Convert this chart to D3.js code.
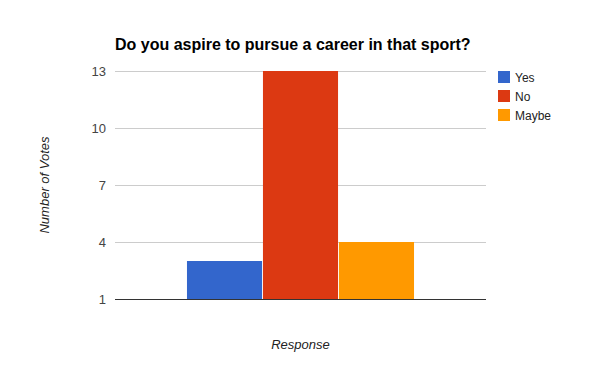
<!DOCTYPE html>
<html><head><meta charset="utf-8">
<script src="https://cdn.jsdelivr.net/npm/d3@7"></script>
<style>body{margin:0;background:#fff}text{font-family:Arial,"Liberation Sans",sans-serif}</style>
</head><body>
<svg id="c" width="600" height="371"></svg>
<script>
const categories = [""];
const seriesNames = ["Yes", "No", "Maybe"];
const seriesValues = [3, 13, 4];
const seriesColors = ["#3366cc", "#dc3912", "#ff9900"];
const yTicks = [1, 4, 7, 10, 13];
const title = "Do you aspire to pursue a career in that sport?";
const xTitle = "Response";
const yTitle = "Number of Votes";

const svg = d3.select("#c");
const L = 115, R = 486, T = 71, B = 299;
const y = d3.scaleLinear().domain([1, 13]).range([B, T]);
const x0 = d3.scaleBand().domain(categories).range([L, R]).paddingInner(0).paddingOuter(0.317);
const x1 = d3.scaleBand().domain(seriesNames).range([0, x0.bandwidth()]).paddingInner(0.012);

svg.append("rect").attr("width", 600).attr("height", 371).attr("fill", "#fff");

// gridlines
svg.append("g").selectAll("line").data(yTicks.filter(t => t !== 1)).join("line")
  .attr("x1", L).attr("x2", R)
  .attr("y1", d => Math.round(y(d)) + 0.5).attr("y2", d => Math.round(y(d)) + 0.5)
  .attr("stroke", "#cccccc").attr("stroke-width", 1);

// y axis labels
const yAxis = d3.axisLeft(y).tickValues(yTicks).tickSize(0).tickPadding(9);
const gy = svg.append("g").attr("transform", `translate(${L},0)`).call(yAxis);
gy.select(".domain").remove();
gy.selectAll("text").attr("fill", "#444").style("font-size", "13px").style("font-family", "Arial, 'Liberation Sans', sans-serif");

// bars
const g = svg.append("g");
categories.forEach((c, ci) => {
  g.selectAll("rect.b" + ci).data(seriesValues).join("rect")
    .attr("x", (d, i) => x0(c) + x1(seriesNames[i]))
    .attr("width", x1.bandwidth())
    .attr("y", d => y(d))
    .attr("height", d => y(1) - y(d))
    .attr("fill", (d, i) => seriesColors[i]);
});

// baseline
svg.append("line").attr("x1", L).attr("x2", R).attr("y1", B + 0.5).attr("y2", B + 0.5)
  .attr("stroke", "#333333").attr("stroke-width", 1);

// title
svg.append("text").attr("x", L).attr("y", 50).text(title)
  .style("font-size", "16px").style("font-weight", "bold").attr("fill", "#000");

// axis titles
svg.append("text").attr("x", (L + R) / 2).attr("y", 349).attr("text-anchor", "middle")
  .style("font-size", "13px").style("font-style", "italic").attr("fill", "#222").text(xTitle);
svg.append("text").attr("transform", `translate(49,${(T + B) / 2}) rotate(-90)`).attr("text-anchor", "middle")
  .style("font-size", "13px").style("font-style", "italic").attr("fill", "#222").text(yTitle);

// legend
const lg = svg.append("g").attr("transform", "translate(498,71)");
seriesNames.forEach((s, i) => {
  const r = lg.append("g").attr("transform", `translate(0,${i * 19})`);
  r.append("rect").attr("width", 12).attr("height", 12).attr("fill", seriesColors[i]);
  r.append("text").attr("x", 17).attr("y", 10.5).style("font-size", "12px").attr("fill", "#222").text(s);
});
</script>
</body></html>
